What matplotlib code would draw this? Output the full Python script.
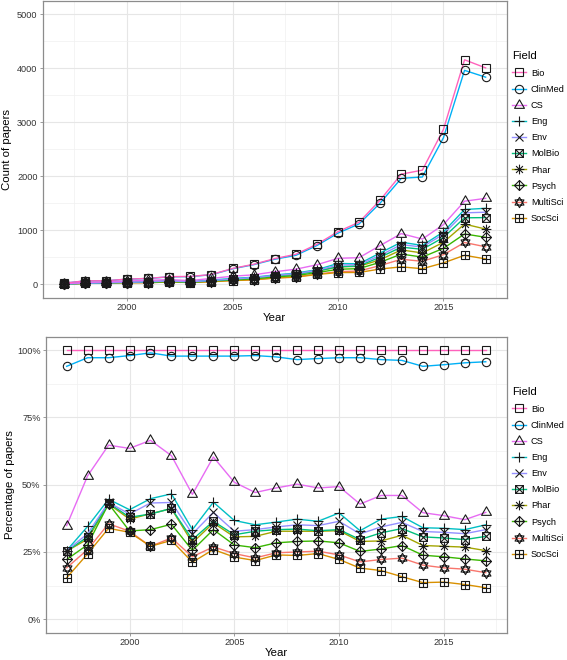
import matplotlib
matplotlib.use("Agg")
import matplotlib.pyplot as plt
import numpy as np
from matplotlib.path import Path
from matplotlib.lines import Line2D

plt.rcParams['font.family'] = ['Liberation Sans', 'DejaVu Sans']

years = list(range(1997, 2018))
fields = ['Bio', 'ClinMed', 'CS', 'Eng', 'Env', 'MolBio', 'Phar', 'Psych', 'MultiSci', 'SocSci']

# Bio paper counts (top panel), every other field is a share of Bio
bio_count = [20, 62, 65, 95, 108, 140, 145, 180, 292, 370, 475, 555, 740, 975, 1150,
             1560, 2040, 2115, 2870, 4160, 4010]

# Percentage of papers (bottom panel)
pct_bio = [100] * 21
pct_clinmed = [94.0, 97.2, 97.2, 98.0, 99.0, 97.8, 97.8, 97.8, 97.8, 98.0, 97.5,
               96.5, 96.9, 97.2, 97.2, 96.5, 96.2, 94.0, 94.6, 95.3, 95.7]
pct_cs = [34.8, 53.3, 64.7, 63.5, 66.5, 60.8, 46.4, 60.3, 50.9, 47.1, 48.8,
          50.2, 48.8, 49.3, 42.8, 46.0, 46.0, 39.6, 38.5, 37.0, 39.7]
pct_eng = [25.5, 34.5, 44.6, 40.7, 44.8, 46.6, 33.3, 43.5, 36.7, 35.1, 36.1,
           37.2, 36.4, 39.5, 32.9, 37.2, 38.2, 34.0, 33.8, 33.3, 35.1]
pct_env = [25.5, 31.8, 43.4, 39.1, 43.2, 43.4, 31.7, 39.7, 32.7, 33.3, 34.3,
           35.1, 34.8, 36.4, 31.7, 34.3, 36.0, 32.6, 32.3, 31.8, 33.3]
pct_molbio = [25.3, 30.6, 43.2, 37.9, 39.1, 41.2, 29.6, 36.4, 31.4, 32.7, 33.3,
              33.5, 32.9, 33.3, 29.6, 32.1, 33.7, 30.6, 30.2, 29.6, 30.8]
pct_phar = [25.3, 29.8, 42.9, 37.2, 39.2, 41.1, 28.4, 35.8, 30.6, 30.8, 32.7,
            32.7, 32.7, 32.9, 28.9, 29.1, 31.2, 27.4, 27.1, 26.8, 25.5]
pct_psych = [22.2, 27.7, 42.9, 32.8, 33.3, 35.3, 25.6, 33.3, 27.6, 26.6, 28.4,
             28.9, 29.1, 28.4, 25.2, 26.1, 27.4, 23.8, 23.2, 22.4, 21.7]
pct_multisci = [19.1, 25.9, 35.5, 32.7, 27.1, 30.2, 23.2, 26.9, 24.4, 22.8, 24.7,
                25.0, 25.3, 23.9, 21.3, 22.2, 22.7, 20.1, 19.1, 18.6, 17.3]
pct_socsci = [15.4, 24.3, 33.8, 32.3, 27.1, 29.3, 21.2, 25.9, 23.1, 21.8, 23.9,
              23.7, 24.4, 22.2, 19.0, 18.1, 15.8, 13.6, 13.8, 12.9, 11.7]

pct = [pct_bio, pct_clinmed, pct_cs, pct_eng, pct_env, pct_molbio, pct_phar,
       pct_psych, pct_multisci, pct_socsci]

colors = ['#FF62BC', '#00B0F6', '#E76BF3', '#00BFC4', '#9590FF', '#00BF7D',
          '#A3A500', '#39B600', '#F8766D', '#D89000']
# ggplot draws groups in palette order
draw_order = [8, 9, 6, 7, 5, 3, 1, 4, 2, 0]


def make_marker(parts):
    verts, codes = [], []
    for pts, closed in parts:
        verts.append(pts[0]); codes.append(Path.MOVETO)
        for p in pts[1:]:
            verts.append(p); codes.append(Path.LINETO)
        if closed:
            verts.append(pts[0]); codes.append(Path.CLOSEPOLY)
    return Path(verts, codes)


square = [(-1, -1), (1, -1), (1, 1), (-1, 1)]
plus = [([(0, -1), (0, 1)], False), ([(-1, 0), (1, 0)], False)]
cross = [([(-1, -1), (1, 1)], False), ([(-1, 1), (1, -1)], False)]
tri_up = make_marker([([(0, 1), (0.866, -0.5), (-0.866, -0.5)], True)])
sq_cross = make_marker([(square, True)] + cross)
asterisk = make_marker(plus + [([(-0.707, -0.707), (0.707, 0.707)], False),
                               ([(-0.707, 0.707), (0.707, -0.707)], False)])
diamond_plus = make_marker([([(0, 1), (1, 0), (0, -1), (-1, 0)], True)] + plus)
star_david = make_marker([([(0, 1), (0.866, -0.5), (-0.866, -0.5)], True),
                          ([(0, -1), (0.866, 0.5), (-0.866, 0.5)], True)])
sq_plus = make_marker([(square, True)] + plus)

markers = ['s', 'o', tri_up, '+', 'x', sq_cross, asterisk, diamond_plus, star_david, sq_plus]
msizes = [5.6, 6.0, 8.2, 7.0, 5.8, 5.6, 7.0, 7.2, 7.4, 5.6]

mk_color = '#1a1a1a'
grid_major = '#E6E6E6'
grid_minor = '#F0F0F0'
border = '#8C8C8C'

fig = plt.figure(figsize=(5.67, 6.6), dpi=100)
ax1 = fig.add_axes([0.0753, 0.5489, 0.8184, 0.4496])
ax2 = fig.add_axes([0.0806, 0.0414, 0.8131, 0.4484])

counts = [np.array(bio_count) * np.array(p) / 100 for p in pct]


def draw_panel(ax, series):
    for k, i in enumerate(draw_order):
        ax.plot(years, series[i], color=colors[i], lw=1.0, zorder=2 + k * 0.01)
    for k, i in enumerate(draw_order):
        ax.plot(years, series[i], ls='none', marker=markers[i], ms=msizes[i],
                mec=mk_color, mfc='none', mew=0.8, zorder=3 + k * 0.01)
    ax.set_xlim(1996, 2018)
    ax.set_xticks([2000, 2005, 2010, 2015])
    ax.set_xticks([1997.5, 2002.5, 2007.5, 2012.5, 2017.5], minor=True)
    ax.grid(True, which='major', color=grid_major, lw=0.8, zorder=0)
    ax.grid(True, which='minor', color=grid_minor, lw=0.5, zorder=0)
    ax.set_axisbelow(True)
    for s in ax.spines.values():
        s.set_color(border)
        s.set_linewidth(0.9)
    ax.tick_params(which='major', length=2.2, width=0.6, color=border,
                   labelsize=6.6, labelcolor='#333333', pad=1.5)
    ax.tick_params(which='minor', length=0)
    ax.set_xlabel('Year', fontsize=8.2)


def add_legend(ax, top):
    handles = [Line2D([], [], color=colors[i], lw=1.0, marker=markers[i], ms=msizes[i],
                      mec=mk_color, mfc='none', mew=0.8) for i in range(len(fields))]
    leg = ax.legend(handles, fields, loc='upper left', bbox_to_anchor=(0.903, top),
                    bbox_transform=fig.transFigure, frameon=False, fontsize=6.6,
                    title='Field', title_fontsize=8.2, alignment='left',
                    handlelength=1.55, handletextpad=0.5, labelspacing=0.78,
                    borderpad=0, borderaxespad=0)
    return leg


# top panel: counts
draw_panel(ax1, counts)
ax1.set_ylim(-250, 5250)
ax1.set_yticks([0, 1000, 2000, 3000, 4000, 5000])
ax1.set_yticks([500, 1500, 2500, 3500, 4500], minor=True)
ax1.set_ylabel('Count of papers', fontsize=8.2)
ax1.yaxis.set_label_coords(-0.066, 0.5)
ax1.xaxis.set_label_coords(0.5, -0.052)
add_legend(ax1, 0.922)

# bottom panel: percentages
draw_panel(ax2, pct)
ax2.set_ylim(-5, 105)
ax2.set_yticks([0, 25, 50, 75, 100])
ax2.set_yticklabels(['0%', '25%', '50%', '75%', '100%'])
ax2.set_yticks([12.5, 37.5, 62.5, 87.5], minor=True)
ax2.set_ylabel('Percentage of papers', fontsize=8.2)
ax2.yaxis.set_label_coords(-0.066, 0.5)
ax2.xaxis.set_label_coords(0.5, -0.052)
add_legend(ax2, 0.413)

fig.savefig('out.png', dpi=100)
